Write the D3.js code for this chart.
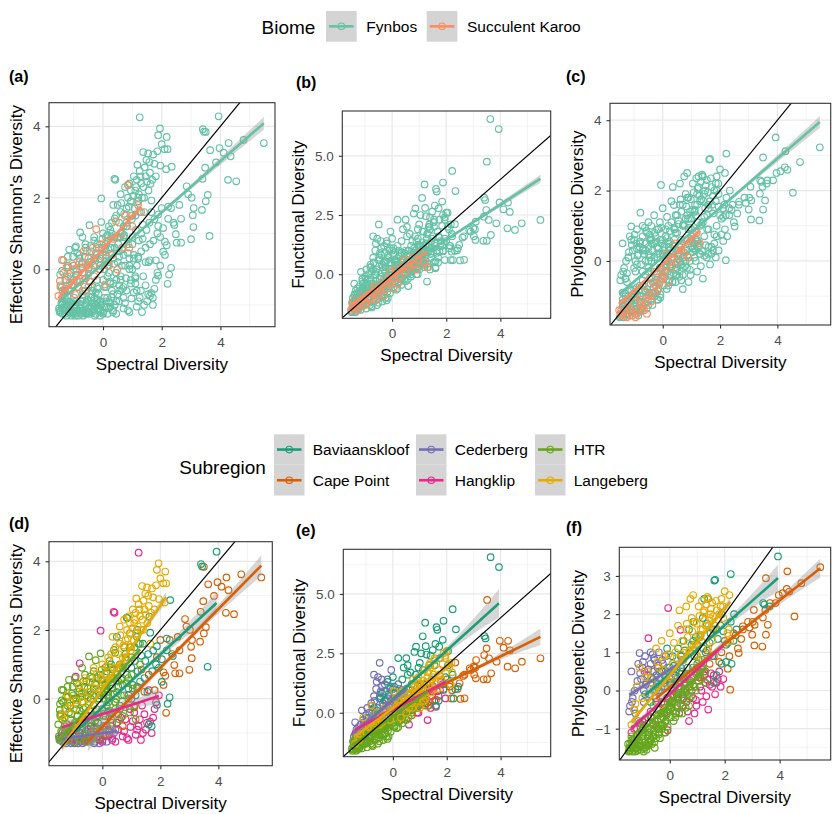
<!DOCTYPE html>
<html>
<head>
<meta charset="utf-8">
<script src="https://cdn.jsdelivr.net/npm/d3@7"></script>
<style>
body { margin: 0; background: #fff; }
text { font-family: "Liberation Sans", Arial, Helvetica, sans-serif; }
</style>
</head>
<body>
<div id="chart"></div>
<script>
// one row per site: [spectral, shannon, functional, phylogenetic, "S" = Succulent Karoo]
var capePoint = [
  [5.48,3.53,2.29,3.23],[4.79,3.62,2.15,2.81],[4.54,2.46,1.87,1.94],[4.28,3.53,3.03,3.12],
  [4.26,2.50,1.94,2.66],[4.35,3.16,2.63,2.59],[4.11,3.26,2.74,2.55],[3.97,3.39,3.03,2.50],
  [3.85,2.99,2.15,2.29],[3.65,3.33,1.66,2.29],[3.50,3.84,4.75,2.94],[3.48,2.84,2.71,2.11],
  [3.39,2.53,2.43,1.91],[3.57,2.08,2.29,1.72],[3.50,1.90,1.41,1.46],[3.37,1.66,1.41,1.15],
  [3.09,1.71,2.22,1.72],[3.08,1.18,1.45,1.18],[3.00,0.84,1.94,1.46],[2.85,2.32,1.87,1.80],
  [3.06,1.51,1.90,2.11],[2.66,0.74,0.61,1.68],[2.51,0.74,0.58,0.98],[2.48,0.98,1.24,1.10],
  [2.20,-0.41,0.95,0.02],[2.11,0.40,1.10,0.57],[2.32,1.71,2.11,1.50],[2.00,1.71,1.40,1.30],
  [1.88,1.21,1.00,1.00],[2.11,0.77,1.20,1.25],[2.17,0.67,0.60,0.90],[3.02,2.00,1.60,1.80],
  [2.66,1.41,1.60,1.60],[2.40,1.30,1.00,1.45],[1.60,0.70,0.55,0.90],[1.45,0.20,0.90,0.70],
  [1.20,0.35,0.30,0.55],[1.10,-0.25,0.55,0.35],[0.90,0.10,0.20,0.50],[0.70,-0.80,-0.10,0.10],
  [0.55,-0.45,0.25,0.30],[0.30,-0.60,-0.30,-0.20],[0.10,-1.05,0.00,0.00],[-0.20,-0.90,-0.45,-0.35],
  [-0.50,-1.20,-0.60,-0.30],[1.80,0.25,1.30,0.75],[2.60,1.80,1.55,1.35],[2.90,2.10,1.80,1.65],
  [1.35,0.85,0.45,1.05]
];
var baviaanskloof = [
  [3.94,4.28,6.13,3.51],[3.40,3.92,3.23,2.29],[3.63,0.93,6.55,2.20],[3.44,3.85,3.13,2.25],
  [2.34,2.87,3.51,2.00],[1.65,1.92,3.49,2.90],[2.22,1.75,4.36,3.05],[1.62,2.39,3.60,2.88],
  [1.20,2.00,3.79,1.90],[1.88,1.53,3.87,2.00],[2.05,0.49,2.00,0.75],[2.32,0.04,0.99,1.30],
  [1.88,-0.18,0.96,0.70],[2.43,1.24,1.10,1.60],[2.22,1.41,1.60,1.80],[1.85,1.00,3.07,1.70],
  [1.11,1.50,3.22,1.40],[0.86,2.35,2.78,1.80],[0.80,1.20,2.56,1.20],[1.48,1.10,2.64,1.50],
  [1.72,0.80,2.78,1.60],[0.50,1.80,2.30,1.30],[0.40,0.60,1.90,0.90],[0.20,0.20,2.30,0.50],
  [0.00,-0.30,1.50,0.60],[-0.20,-0.50,1.30,0.20],[-0.40,-0.70,0.80,0.00],[-0.70,-0.90,0.20,-0.30],
  [-0.90,-1.00,-0.20,-0.10],[0.60,-0.20,1.00,0.40],[0.90,0.30,1.40,0.90],[1.00,0.90,2.10,1.20],
  [1.30,0.50,1.70,1.00],[1.40,1.60,2.40,2.40],[1.55,0.20,2.00,0.90],[0.70,0.90,1.20,1.60],
  [0.30,1.00,0.90,1.10],[0.10,0.40,0.60,0.90],[-0.10,0.10,1.00,1.10],[1.70,-0.80,0.50,0.40],
  [1.60,-0.75,0.30,0.20],[2.25,-0.15,0.60,0.70],[1.25,1.60,2.45,2.40],[0.95,1.90,1.90,1.40],
  [0.55,0.35,1.60,0.20],[1.15,0.10,1.20,0.60],[-0.30,0.30,0.50,0.50],[0.25,-0.40,0.20,0.30],
  [-0.60,-0.60,0.10,0.30],[-0.45,-0.35,0.60,0.10],[-0.15,-0.70,0.70,0.35],[0.05,0.00,1.10,0.15],
  [0.15,-0.20,0.40,0.65],[0.35,0.30,1.40,0.45],[0.45,-0.10,0.90,0.80],[0.65,0.55,1.70,0.60],
  [0.75,0.10,0.70,1.00],[0.85,0.70,1.60,1.30],[1.05,0.40,2.50,0.80],[1.12,1.10,1.80,1.45],
  [1.22,0.80,2.80,1.10],[1.35,1.25,2.00,1.75],[1.45,0.60,1.40,1.25],[1.58,1.30,2.90,1.60],
  [1.75,1.40,2.30,1.35],[1.95,0.90,1.50,1.55],[2.05,1.15,2.60,1.20],[0.55,0.90,2.00,1.05]
];
var cederberg = [
  [-1.45,-1.20,-1.00,-0.40],[-1.35,-1.10,-0.70,-0.20],[-1.30,-1.25,-0.90,-0.50],[-1.20,-1.00,-0.50,0.10],
  [-1.10,-1.15,-0.30,0.98],[-1.05,-1.25,-0.60,0.30],[-1.00,-0.90,-0.10,0.60],[-0.95,-1.10,0.20,0.00],
  [-0.90,-1.20,-0.40,0.90],[-0.80,-1.00,0.40,0.40],[-0.75,-1.25,0.10,-0.10],[-0.70,-0.80,0.70,0.70],
  [-0.65,-1.15,0.00,0.20],[-0.60,-1.00,1.30,0.50],[-0.55,-1.20,1.50,0.80],[-0.50,-0.90,0.60,0.00],
  [-0.49,-1.10,2.10,0.40],[-0.45,-1.25,0.90,0.60],[-0.40,-0.95,1.10,1.00],[-0.35,-1.15,0.30,0.30],
  [-0.30,-1.05,1.20,0.10],[-0.25,-1.25,0.50,0.70],[-0.20,-0.85,1.40,0.40],[-0.15,-1.10,0.80,0.90],
  [-0.06,-1.00,1.80,0.50],[0.00,-1.20,1.00,0.20],[0.10,-0.90,0.60,0.70],[0.20,-1.10,1.20,0.40],
  [0.30,-0.80,0.80,0.10],[0.40,-1.00,0.40,0.60],[0.50,-0.70,1.00,0.30],[-1.25,-1.30,-1.10,-0.60],
  [-0.85,-1.30,-0.80,0.20],[-1.40,-1.00,-0.40,0.50],[-0.10,-1.30,0.20,-0.20],[-0.70,-0.60,1.60,1.00],
  [-1.48,-1.15,-1.20,-0.55],[-1.38,-1.25,-0.85,-0.30],[-1.28,-1.05,-0.60,0.00],[-1.18,-1.20,-0.75,0.25],
  [-1.08,-1.30,-0.40,0.45],[-0.98,-1.00,-0.20,0.75],[-0.88,-1.15,0.00,0.15],[-0.78,-1.10,0.30,0.55],
  [-0.68,-1.30,0.50,0.35],[-0.58,-0.95,0.20,0.85],[-0.48,-1.20,0.70,0.20],[-0.38,-1.05,0.40,0.50],
  [-0.28,-1.30,0.90,0.80],[-0.18,-0.95,0.60,0.10],[-0.08,-1.15,1.10,0.60],[0.05,-1.05,0.80,0.30],
  [0.15,-1.25,0.40,0.00],[0.25,-0.95,1.00,0.55],[0.35,-1.15,0.60,0.25],[0.45,-0.90,0.20,-0.10],
  [-1.15,-0.95,0.10,0.70],[-0.95,-1.30,-0.50,-0.30],[-0.62,-1.20,1.00,0.95],[-0.42,-0.80,1.40,0.65]
];
var hangklip = [
  [1.25,4.25,1.20,0.40],[-0.06,1.98,0.50,2.16],[0.39,2.53,0.40,1.59],[0.42,2.50,0.60,0.90],
  [-0.78,1.03,-0.30,1.37],[-0.92,0.64,-0.60,0.50],[-1.40,-1.10,-0.90,-1.10],[-1.20,-0.90,-0.70,-1.00],
  [-1.00,-1.20,-0.50,-0.80],[-0.80,-1.00,-0.80,-0.70],[-0.60,-1.25,-0.30,-0.90],[-0.40,-0.80,-0.10,-0.50],
  [-0.20,-1.10,-0.40,-0.60],[0.00,-1.25,0.00,-0.30],[0.20,-0.90,0.20,-0.60],[0.34,-1.20,-0.20,-0.59],
  [-0.08,-1.00,0.10,-1.04],[0.50,-0.70,0.40,-0.20],[0.70,-1.10,0.10,-0.80],[0.80,-0.60,0.60,0.00],
  [0.97,-0.82,0.30,-0.40],[1.10,-0.40,0.80,0.10],[1.20,-0.90,0.40,-0.30],[1.29,-0.60,-0.31,0.20],
  [1.37,-0.20,1.00,0.28],[1.54,-0.70,0.50,0.10],[1.60,0.25,0.25,0.40],[1.65,-0.67,0.90,-0.10],
  [1.80,-0.30,1.30,0.50],[1.95,0.10,0.60,0.30],[0.60,-0.30,-0.50,-0.30],[0.90,-1.20,0.00,-0.60],
  [1.40,-1.00,0.20,-0.50],[0.10,-0.50,0.50,0.00],[-0.50,-0.50,-0.60,-0.20],[1.00,0.00,1.10,0.60],
  [1.70,-1.00,0.70,0.20],
  [-1.30,-1.00,-0.80,-1.00],[-1.10,-1.20,-0.60,-0.85],[-0.90,-0.90,-0.45,-0.75],[-0.70,-1.15,-0.50,-0.55],
  [-0.30,-0.95,-0.20,-0.30],[-0.10,-1.20,0.10,-0.20],[0.05,-0.80,-0.10,-0.45],[0.25,-1.05,0.35,-0.10],
  [0.45,-1.25,0.10,-0.40],[0.55,-0.90,0.50,0.05],[0.65,-0.55,0.20,-0.55],[0.75,-0.95,0.55,0.25],
  [0.85,-1.15,0.30,-0.20],[1.05,-0.65,0.60,0.35],[1.15,-1.05,0.90,0.00],[1.25,-0.80,0.55,0.50],
  [1.45,-0.45,0.70,0.15],[1.50,-0.90,1.10,0.45],[1.75,-0.55,0.95,0.30],[1.85,-0.10,1.20,0.10],
  [0.35,-0.40,0.00,0.20],[-0.25,-0.65,0.30,-0.70],[0.95,-0.30,0.00,-0.25],[1.33,-1.20,0.30,-0.15]
];
var htr = [
  [-1.45,-0.45,-1.40,-1.40],[-1.40,-0.05,-1.20,-1.20],[-1.35,0.25,-1.00,-1.30],[-1.20,0.35,-1.30,-1.50],
  [-1.30,-0.80,-1.50,-1.50],[-1.10,-0.20,-0.90,-1.10],[-1.00,0.10,-1.10,-1.30],[-0.95,0.60,-0.60,-0.90],
  [-0.85,-0.50,-1.20,-1.55],[-0.80,0.30,-0.80,-1.00],[-0.70,0.90,-0.40,-0.70],[-0.65,-0.10,-1.00,-1.20],
  [-0.55,0.50,-0.70,-0.80],[-0.46,1.23,-0.20,-0.50],[-0.40,0.20,-0.90,-1.00],[-0.30,0.80,-0.50,-0.60],
  [-0.20,-0.30,-1.10,-1.10],[-0.06,1.32,0.10,-0.20],[0.00,0.40,-0.40,-0.50],[0.10,0.90,-0.10,-0.30],
  [0.20,-0.10,-0.60,-0.70],[0.30,0.60,0.20,-0.20],[0.40,1.42,0.50,0.10],[0.50,0.20,-0.30,-0.40],
  [0.60,0.90,0.60,0.00],[0.70,0.40,0.10,-0.20],[0.80,1.30,0.90,0.30],[0.90,0.00,0.30,0.10],
  [1.00,0.70,1.20,0.40],[1.20,0.30,0.50,0.60],[1.30,1.00,1.00,0.20],[-1.50,-1.10,-1.60,-1.60],
  [-1.25,-1.00,-1.45,-1.40],[-1.05,-0.95,-1.30,-1.45],[-0.75,-0.90,-1.40,-1.35],[-0.50,-1.10,-1.20,-1.25],
  [-0.25,-1.00,-1.00,-0.90],[-0.90,0.00,-0.70,-1.10],[-0.60,0.70,-0.30,-0.40],[-0.15,0.60,-0.60,-0.80],
  [0.15,0.10,0.00,-0.10],[0.45,-0.30,-0.20,-0.60],[0.70,-0.50,0.00,-0.40],[1.10,-0.20,0.70,0.50],
  [-1.15,0.55,-0.80,-0.80],[-0.35,-0.50,-0.70,-0.90],[0.25,1.10,0.40,-0.40],[0.55,0.50,0.30,0.20],
  [-1.48,-1.20,-1.55,-1.58],[-1.42,-0.95,-1.45,-1.50],[-1.38,-0.60,-1.30,-1.45],[-1.33,-1.15,-1.55,-1.35],
  [-1.28,-0.30,-1.25,-1.25],[-1.22,-0.75,-1.40,-1.52],[-1.18,0.05,-1.05,-1.15],[-1.12,-1.05,-1.35,-1.30],
  [-1.08,-0.45,-1.15,-1.40],[-1.02,0.35,-0.95,-1.05],[-0.98,-0.80,-1.25,-1.20],[-0.92,-0.15,-1.05,-1.35],
  [-0.88,0.45,-0.75,-0.95],[-0.82,-1.15,-1.30,-1.45],[-0.78,-0.35,-0.95,-1.15],[-0.72,0.15,-0.85,-1.00],
  [-0.68,-0.70,-1.15,-1.30],[-0.62,0.35,-0.65,-0.85],[-0.58,-0.25,-0.85,-1.05],[-0.52,-0.85,-1.05,-1.15],
  [-0.48,0.05,-0.75,-0.90],[-0.42,0.65,-0.45,-0.65],[-0.38,-0.60,-0.95,-1.10],[-0.32,0.10,-0.60,-0.75],
  [-0.28,-0.80,-0.85,-1.00],[-0.22,0.40,-0.40,-0.55],[-0.18,-0.55,-0.75,-0.85],[-0.12,0.00,-0.50,-0.65],
  [-0.08,-0.90,-0.80,-0.95],[-0.02,0.85,-0.20,-0.40],[0.04,-0.50,-0.55,-0.70],[0.08,0.20,-0.30,-0.45],
  [0.14,-0.80,-0.65,-0.80],[0.18,0.55,-0.10,-0.30],[0.24,-0.35,-0.35,-0.55],[0.28,0.90,0.10,-0.15],
  [0.34,-0.70,-0.45,-0.60],[0.38,0.15,-0.15,-0.35],[0.44,-0.10,0.05,-0.25],[0.52,0.70,0.20,-0.05],
  [0.58,-0.60,-0.20,-0.45],[0.64,0.10,0.15,-0.10],[0.72,0.95,0.40,0.10],[0.78,-0.25,0.20,-0.15],
  [0.85,0.45,0.55,0.15],[0.95,-0.40,0.35,0.00],[1.05,0.30,0.80,0.25],[1.15,-0.60,0.45,0.30],
  [-1.46,-0.15,-1.20,-1.50],[-1.36,-0.95,-1.60,-1.60],[-1.16,-1.20,-1.50,-1.56],[-0.96,-1.25,-1.45,-1.50],
  [-0.76,-1.20,-1.35,-1.42],[-0.56,-1.25,-1.30,-1.35],[-0.36,-1.20,-1.15,-1.25],[-0.16,-1.15,-1.00,-1.10],
  [-1.40,0.26,-1.10,-1.30,"S"],[-1.47,-0.33,-1.40,-1.50,"S"],[-1.52,-0.75,-1.50,-1.40,"S"],[-1.30,-0.55,-1.35,-1.55,"S"],
  [-1.20,-0.20,-1.20,-1.20,"S"],[-1.10,-0.60,-0.90,-1.45,"S"],[-1.00,0.00,-1.30,-1.00,"S"],[-0.90,-0.30,-0.80,-1.50,"S"],
  [-0.80,0.20,-1.00,-1.20,"S"],[-0.70,-0.10,-0.60,-1.30,"S"],[-0.66,0.50,-0.50,-0.70,"S"],[-0.55,0.10,-0.90,-1.50,"S"],
  [-0.43,-0.35,-0.70,-1.00,"S"],[-0.35,0.60,-0.30,-0.60,"S"],[-0.23,1.12,-0.40,-0.30,"S"],[-0.15,0.20,-0.20,-0.80,"S"],
  [-0.06,0.70,0.10,-0.50,"S"],[0.06,-0.43,-0.60,-0.30,"S"],[0.15,0.80,0.20,0.20,"S"],[0.30,0.40,-0.10,-0.20,"S"],
  [0.44,1.34,0.60,0.50,"S"],[0.49,-0.01,0.10,0.00,"S"],[0.60,1.00,0.30,0.40,"S"],[0.75,1.50,0.70,0.20,"S"],
  [0.84,2.36,0.40,0.60,"S"],[1.00,1.20,0.90,0.70,"S"],[1.19,1.80,0.50,0.80,"S"],[1.30,1.60,0.30,0.50,"S"],
  [-1.25,0.05,-1.50,-1.60,"S"],[-0.95,-0.70,-1.20,-1.60,"S"],[-0.60,-0.60,-1.10,-1.20,"S"],[-0.30,-0.20,-0.90,-0.90,"S"],
  [0.20,0.10,-0.40,-0.60,"S"],[0.90,0.60,0.20,0.10,"S"],
  [-1.45,-0.50,-1.30,-1.55,"S"],[-1.35,-0.10,-1.45,-1.45,"S"],[-1.15,-0.40,-1.10,-1.35,"S"],[-1.05,0.15,-1.00,-1.55,"S"],
  [-0.85,-0.50,-1.10,-1.40,"S"],[-0.75,0.05,-0.85,-1.10,"S"],[-0.65,-0.30,-0.75,-1.40,"S"],[-0.50,0.30,-0.60,-0.95,"S"],
  [-0.40,0.00,-0.50,-1.15,"S"],[-0.25,0.45,-0.55,-0.70,"S"],[-0.10,0.00,-0.35,-0.60,"S"],[0.00,0.55,-0.15,-0.40,"S"],
  [0.10,0.30,0.00,-0.15,"S"],[0.35,0.85,0.25,0.05,"S"],[0.65,0.60,0.45,0.30,"S"],[0.95,1.50,0.60,0.55,"S"]
];
var langeberg = [
  [1.94,3.94,2.30,2.20],[1.88,3.75,2.50,2.40],[2.17,3.70,2.10,2.50],[2.00,3.50,2.60,2.60],
  [2.10,3.36,1.90,1.50],[2.20,3.36,1.70,1.30],[1.37,3.28,2.00,2.45],[1.54,3.24,2.20,2.30],
  [1.71,3.21,1.60,2.10],[1.48,3.06,1.50,2.00],[1.17,2.92,1.80,2.35],[1.25,2.75,1.30,2.10],
  [1.45,2.60,1.10,1.90],[1.05,2.60,1.20,2.20],[0.90,2.40,0.90,1.80],[0.75,2.30,1.40,2.40],
  [0.60,2.10,0.80,1.60],[1.30,2.40,1.70,1.70],[1.60,2.70,1.20,1.50],[1.10,2.20,0.70,1.40],
  [0.95,1.90,1.50,1.20],[0.80,1.70,0.60,1.90],[0.45,1.50,0.30,1.30],[0.35,1.80,0.90,2.10],
  [0.20,1.20,0.50,1.00],[0.00,1.00,0.10,1.50],[-0.20,0.70,-0.10,0.90],[-0.40,0.50,-0.40,0.60],
  [-0.70,0.20,-0.60,0.30],[-1.00,-0.30,-0.80,-0.20],[-1.30,-0.60,-1.00,-0.50],[-1.10,-0.10,-0.20,0.60],
  [-0.80,0.40,0.30,0.50],[-0.50,0.00,-0.50,1.10],[-0.10,0.30,-0.30,0.20],[0.10,0.70,0.60,0.70],
  [0.50,0.90,0.00,0.80],[0.70,1.20,0.40,1.00],[1.00,1.50,0.20,0.90],[1.20,1.90,0.90,1.60],
  [1.55,2.20,2.30,1.30],[1.80,2.60,1.40,2.00],[1.95,2.90,2.40,1.90],[2.15,2.80,1.20,1.60],
  [0.30,1.30,-0.20,1.70],[0.60,1.60,0.20,2.20],[0.85,2.00,1.00,2.50],[1.15,2.50,0.50,1.30],
  [1.40,2.00,1.90,1.10],[-0.30,0.90,0.20,1.30],[-0.60,0.60,0.00,0.00],[-1.40,-0.50,-1.30,-0.90],
  [-1.20,0.10,-0.90,0.10],[0.05,0.50,0.90,0.40],[1.65,1.60,1.00,1.70],
  [0.40,0.90,0.60,0.95],[0.55,1.30,0.55,1.15],[0.65,1.00,0.85,1.40],[0.72,1.55,0.20,1.05],
  [0.82,1.20,1.10,1.55],[0.88,1.75,0.50,1.20],[0.98,1.40,1.25,1.75],[1.03,2.05,0.75,1.45],
  [1.08,1.70,1.05,1.95],[1.13,2.30,1.35,1.60],[1.22,2.10,0.60,2.05],[1.28,2.60,1.50,1.85],
  [1.33,2.00,1.15,2.25],[1.42,2.85,0.85,1.70],[1.50,2.45,1.60,2.15],[1.58,3.00,1.30,1.95],
  [1.68,2.50,1.80,2.35],[1.75,2.95,1.55,1.85],[1.85,3.30,2.05,2.20],[0.15,0.95,0.30,1.25],
  [0.25,0.60,0.75,0.85],[-0.05,0.60,0.40,0.95],[-0.25,0.30,0.10,0.55],[-0.45,0.20,-0.20,0.75],
  [-0.65,-0.10,-0.45,0.20],[-0.90,-0.05,-0.60,0.35],[-1.25,-0.30,-1.15,-0.35],[0.95,2.20,0.95,0.95],
  [1.38,2.30,2.10,2.40],[0.62,1.85,1.00,1.75]
];

// fitted lines: [intercept, slope, band half-width at low end, middle, high end]
// rows: Shannon, Functional, Phylogenetic
var fynbosFit = [[0.156,0.717,0.07,0.03,0.18],[-0.02,0.74,0.07,0.03,0.17],[0.11,0.70,0.07,0.03,0.17]];
var karooFit = [[0.57,0.91,0.14,0.05,0.13],[-0.07,0.79,0.10,0.04,0.10],[-0.10,0.74,0.10,0.04,0.10]];
var baviaanskloofFit = [[-0.25,0.77,0.18,0.07,0.32],[0.57,1.025,0.25,0.10,0.60],[0.44,0.636,0.15,0.06,0.35]];
var capePointFit = [[-0.81,0.855,0.30,0.08,0.30],[0.15,0.556,0.25,0.07,0.35],[0.08,0.57,0.20,0.06,0.25]];
var cederbergFit = [[-1.0,0.12,0.10,0.05,0.15],[0.52,0.93,0.20,0.10,0.25],[0.55,0.45,0.12,0.06,0.15]];
var hangklipFit = [[-0.45,0.27,0.18,0.08,0.25],[0.13,0.60,0.12,0.05,0.15],[-0.09,0.65,0.10,0.05,0.15]];
var htrFit = [[0.20,0.95,0.10,0.04,0.15],[-0.15,0.80,0.08,0.03,0.12],[-0.35,0.72,0.06,0.03,0.10]];
var langebergFit = [[0.27,1.22,0.12,0.05,0.17],[0.19,0.85,0.10,0.04,0.15],[0.40,0.876,0.08,0.04,0.12]];

var subregions = ["Baviaanskloof", "Cape Point", "Cederberg", "Hangklip", "HTR", "Langeberg"];
var subregionColors = ["#1B9E77", "#D95F02", "#7570B3", "#E7298A", "#66A61E", "#E6AB02"];
var subregionSites = [baviaanskloof, capePoint, cederberg, hangklip, htr, langeberg];
var subregionFits = [baviaanskloofFit, capePointFit, cederbergFit, hangklipFit, htrFit, langebergFit];
var biomes = ["Fynbos", "Succulent Karoo"];
var biomeColors = ["#66C2A5", "#FC8D62"];
var biomeFits = [fynbosFit, karooFit];

var xTicks = [0, 2, 4], xMinor = [-1, 1, 3, 5], xTickLabels = ["0", "2", "4"];
var yTicksShannon = [0, 2, 4], yMinorShannon = [-1, 1, 3], yLabelsShannon = ["0", "2", "4"];
var yTicksFunctional = [0, 2.5, 5], yMinorFunctional = [-1.25, 1.25, 3.75, 6.25], yLabelsFunctional = ["0.0", "2.5", "5.0"];
var yTicksPhyloC = [0, 2, 4], yMinorPhyloC = [-1, 1, 3], yLabelsPhyloC = ["0", "2", "4"];
var yTicksPhyloF = [-1, 0, 1, 2, 3], yMinorPhyloF = [-1.5, -0.5, 0.5, 1.5, 2.5, 3.5], yLabelsPhyloF = ["\u22121", "0", "1", "2", "3"];
var responseTitles = ["Effective Shannon's Diversity", "Functional Diversity", "Phylogenetic Diversity"];

var sites = [];
subregionSites.forEach(function (rows, k) {
  rows.forEach(function (r) {
    sites.push({ sx: r[0], v: [r[1], r[2], r[3]], sub: subregions[k], biome: r[4] === "S" ? biomes[1] : biomes[0] });
  });
});

var svg = d3.select("#chart").append("svg").attr("width", 839).attr("height", 814);
var xDomain = [-1.84, 5.86];

var panels = [
  { tag: "(a)", tx: 9, ty: 81.5, box: [49, 102.7, 275, 326.7], yd: [-1.61, 4.66], r: 0, by: "biome", yt: yTicksShannon, ym: yMinorShannon, yl: yLabelsShannon },
  { tag: "(b)", tx: 296, ty: 87.5, box: [342.3, 111, 550.7, 318.3], yd: [-1.86, 6.89], r: 1, by: "biome", yt: yTicksFunctional, ym: yMinorFunctional, yl: yLabelsFunctional },
  { tag: "(c)", tx: 566, ty: 82, box: [610, 103.3, 830.7, 325], yd: [-1.82, 4.48], r: 2, by: "biome", yt: yTicksPhyloC, ym: yMinorPhyloC, yl: yLabelsPhyloC },
  { tag: "(d)", tx: 9, ty: 529, box: [49, 541.7, 272.3, 765.7], yd: [-1.95, 4.57], r: 0, by: "sub", yt: yTicksShannon, ym: yMinorShannon, yl: yLabelsShannon },
  { tag: "(e)", tx: 296, ty: 535.5, box: [343.3, 549.3, 550.7, 756.7], yd: [-1.85, 6.88], r: 1, by: "sub", yt: yTicksFunctional, ym: yMinorFunctional, yl: yLabelsFunctional },
  { tag: "(f)", tx: 566, ty: 532.5, box: [619.3, 547.3, 830.7, 760], yd: [-1.82, 3.75], r: 2, by: "sub", yt: yTicksPhyloF, ym: yMinorPhyloF, yl: yLabelsPhyloF }
];

var pointOrder = ["Cederberg", "Hangklip", "Cape Point", "Baviaanskloof", "HTR", "Langeberg"];

panels.forEach(function (p, i) {
  var x = d3.scaleLinear().domain(xDomain).range([p.box[0], p.box[2]]);
  var y = d3.scaleLinear().domain(p.yd).range([p.box[3], p.box[1]]);
  var w = p.box[2] - p.box[0], h = p.box[3] - p.box[1];
  var g = svg.append("g");

  svg.append("clipPath").attr("id", "clip" + i).append("rect")
    .attr("x", p.box[0]).attr("y", p.box[1]).attr("width", w).attr("height", h);

  /* grid */
  g.selectAll(".vmin").data(xMinor).enter().append("line")
    .attr("x1", x).attr("x2", x).attr("y1", p.box[1]).attr("y2", p.box[3])
    .style("stroke", "#ebebeb").style("stroke-width", 0.6);
  g.selectAll(".hmin").data(p.ym).enter().append("line")
    .attr("y1", y).attr("y2", y).attr("x1", p.box[0]).attr("x2", p.box[2])
    .style("stroke", "#ebebeb").style("stroke-width", 0.6);
  g.selectAll(".vmaj").data(xTicks).enter().append("line")
    .attr("x1", x).attr("x2", x).attr("y1", p.box[1]).attr("y2", p.box[3])
    .style("stroke", "#e8e8e8").style("stroke-width", 1.2);
  g.selectAll(".hmaj").data(p.yt).enter().append("line")
    .attr("y1", y).attr("y2", y).attr("x1", p.box[0]).attr("x2", p.box[2])
    .style("stroke", "#e8e8e8").style("stroke-width", 1.2);

  var plot = g.append("g").attr("clip-path", "url(#clip" + i + ")");

  /* groups: points first, then ribbons and fitted lines */
  var groups;
  if (p.by === "biome") {
    groups = biomes.map(function (b, k) {
      return { pts: sites.filter(function (s) { return s.biome === b; }), color: biomeColors[k], fit: biomeFits[k][p.r] };
    });
    groups.forEach(function (gr) { drawPoints(gr.pts, gr.color); });
  } else {
    groups = subregions.map(function (s, k) {
      return { pts: sites.filter(function (d) { return d.sub === s; }), color: subregionColors[k], fit: subregionFits[k][p.r] };
    });
    pointOrder.forEach(function (s) {
      var k = subregions.indexOf(s);
      drawPoints(groups[k].pts, groups[k].color);
    });
  }

  function drawPoints(pts, color) {
    plot.append("g").selectAll("circle").data(pts).enter().append("circle")
      .attr("cx", function (d) { return x(d.sx); })
      .attr("cy", function (d) { return y(d.v[p.r]); })
      .attr("r", 3.3)
      .style("fill", "none")
      .style("stroke", color)
      .style("stroke-width", 1.15);
  }

  groups.forEach(function (gr) {
    var ext = d3.extent(gr.pts, function (d) { return d.sx; });
    var xm = d3.mean(gr.pts, function (d) { return d.sx; });
    var f = gr.fit;
    var hw = function (v) {
      var t;
      if (v < xm) { t = (xm - v) / (xm - ext[0]); return f[3] + (f[2] - f[3]) * t * t; }
      t = (v - xm) / (ext[1] - xm); return f[3] + (f[4] - f[3]) * t * t;
    };
    var xs = d3.range(ext[0], ext[1], (ext[1] - ext[0]) / 40).concat([ext[1]]);
    plot.append("path").datum(xs)
      .attr("d", d3.area()
        .x(function (v) { return x(v); })
        .y0(function (v) { return y(f[0] + f[1] * v - hw(v)); })
        .y1(function (v) { return y(f[0] + f[1] * v + hw(v)); }))
      .style("fill", "#999999").style("fill-opacity", 0.4);
  });
  groups.forEach(function (gr) {
    var ext = d3.extent(gr.pts, function (d) { return d.sx; });
    var f = gr.fit;
    plot.append("line")
      .attr("x1", x(ext[0])).attr("y1", y(f[0] + f[1] * ext[0]))
      .attr("x2", x(ext[1])).attr("y2", y(f[0] + f[1] * ext[1]))
      .style("stroke", gr.color).style("stroke-width", 2.6);
  });

  /* 1:1 line */
  plot.append("line")
    .attr("x1", x(xDomain[0])).attr("y1", y(xDomain[0]))
    .attr("x2", x(xDomain[1])).attr("y2", y(xDomain[1]))
    .style("stroke", "#000").style("stroke-width", 1.2);

  /* border */
  g.append("rect").attr("x", p.box[0]).attr("y", p.box[1]).attr("width", w).attr("height", h)
    .style("fill", "none").style("stroke", "#333").style("stroke-width", 1.1);

  /* axes */
  var ax = g.append("g").attr("transform", "translate(0," + p.box[3] + ")")
    .call(d3.axisBottom(x).tickValues(xTicks).tickSize(3.5).tickPadding(7)
      .tickFormat(function (d, j) { return xTickLabels[j]; }));
  var ay = g.append("g").attr("transform", "translate(" + p.box[0] + ",0)")
    .call(d3.axisLeft(y).tickValues(p.yt).tickSize(3.5).tickPadding(5)
      .tickFormat(function (d, j) { return p.yl[j]; }));
  [ax, ay].forEach(function (a) {
    a.select(".domain").remove();
    a.selectAll("line").style("stroke", "#333").style("stroke-width", 1.1);
    a.selectAll("text").style("fill", "#4d4d4d").style("font-size", "13.5px")
      .style("font-family", "'Liberation Sans', Arial, sans-serif");
  });
  var maxW = 0;
  ay.selectAll("text").each(function () { maxW = Math.max(maxW, this.getComputedTextLength()); });

  g.append("text")
    .attr("x", (p.box[0] + p.box[2]) / 2).attr("y", p.box[3] + 43)
    .attr("text-anchor", "middle").style("font-size", "17px").style("fill", "#000")
    .text("Spectral Diversity");
  g.append("text")
    .attr("transform", "translate(" + (p.box[0] - 8.5 - maxW - 11) + "," + ((p.box[1] + p.box[3]) / 2) + ") rotate(-90)")
    .attr("text-anchor", "middle").style("font-size", "17px").style("fill", "#000")
    .text(responseTitles[p.r]);
  g.append("text").attr("x", p.tx).attr("y", p.ty)
    .style("font-size", "16px").style("font-weight", "bold").style("fill", "#000")
    .text(p.tag);
});

/* legends */
function legendKey(gk, kx, ky, size, color) {
  gk.append("rect").attr("x", kx).attr("y", ky).attr("width", size).attr("height", size)
    .style("fill", "#d4d4d4");
  gk.append("line").attr("x1", kx + 3).attr("x2", kx + size - 3)
    .attr("y1", ky + size / 2).attr("y2", ky + size / 2)
    .style("stroke", color).style("stroke-width", 2.6);
  gk.append("circle").attr("cx", kx + size / 2).attr("cy", ky + size / 2).attr("r", 3.3)
    .style("fill", "none").style("stroke", color).style("stroke-width", 1.1);
}

var lg1 = svg.append("g");
lg1.append("text").attr("x", 261.5).attr("y", 33.5).style("font-size", "19px").text("Biome");
var biomeKeyX = [326, 426.7];
biomes.forEach(function (b, k) {
  legendKey(lg1, biomeKeyX[k], 11, 30.7, biomeColors[k]);
  lg1.append("text").attr("x", biomeKeyX[k] + 40.3).attr("y", 32.3)
    .style("font-size", "15.5px").text(b);
});

var lg2 = svg.append("g");
lg2.append("text").attr("x", 179.3).attr("y", 473.5).style("font-size", "19px").text("Subregion");
var subKeyX = [274, 416, 535], subKeyY = [434.3, 465];
subregions.forEach(function (s, k) {
  var col = Math.floor(k / 2), row = k % 2;
  legendKey(lg2, subKeyX[col], subKeyY[row], 30.5, subregionColors[k]);
  lg2.append("text").attr("x", subKeyX[col] + 38.7).attr("y", subKeyY[row] + 21)
    .style("font-size", "15.5px").text(s);
});
</script>
</body>
</html>
